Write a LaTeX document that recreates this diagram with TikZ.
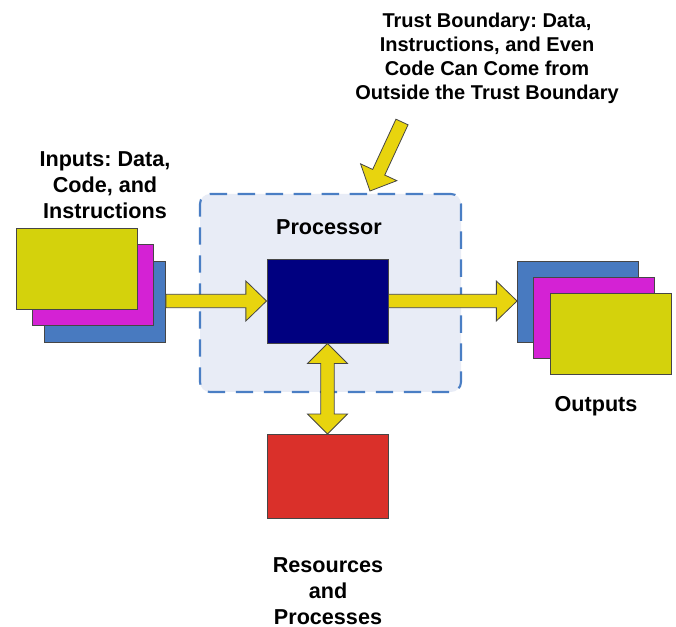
\documentclass[tikz,border=0pt]{standalone}
\usepackage{fontspec}
\setmainfont{Liberation Sans}
\usetikzlibrary{calc}
\frenchspacing

\definecolor{sheetyellow}{RGB}{212,210,12}
\definecolor{sheetmagenta}{RGB}{212,34,212}
\definecolor{sheetblue}{RGB}{72,122,192}
\definecolor{arrowyellow}{RGB}{232,212,14}
\definecolor{cpunavy}{RGB}{0,0,128}
\definecolor{resred}{RGB}{218,48,42}
\definecolor{zonefill}{RGB}{232,236,246}
\definecolor{zoneedge}{RGB}{74,126,196}
\definecolor{outline}{RGB}{70,70,70}

\tikzset{
  sheet/.style={draw=outline, line width=0.7pt, minimum width=90.75pt, minimum height=60.75pt, inner sep=0pt},
  unit/.style={draw=outline, line width=0.7pt, minimum width=90.75pt, minimum height=63pt, inner sep=0pt},
  blockarrow/.style={draw=outline, line width=0.6pt, fill=arrowyellow, line join=miter},
  label/.style={font=\fontsize{16.2pt}{19.5pt}\selectfont\bfseries, align=center, inner sep=0pt},
  smalllabel/.style={font=\fontsize{15pt}{18pt}\selectfont\bfseries, align=center, inner sep=0pt},
}

% block arrow from #1 (tail) to #2 (tip)
\newcommand\blockarrowpath[2]{%
  \path coordinate (hb) at ($(#2)!15.5pt!(#1)$);
  \draw[blockarrow]
    ($(#1)!5pt!90:(#2)$) -- ($(hb)!5pt!90:(#2)$) -- ($(hb)!15pt!90:(#2)$) -- (#2)
    -- ($(hb)!15pt!-90:(#2)$) -- ($(hb)!5pt!-90:(#2)$) -- ($(#1)!5pt!-90:(#2)$) -- cycle;
}

\begin{document}
\begin{tikzpicture}[x=0.75pt,y=-0.75pt]
  \useasboundingbox[fill=white] (0,0) rectangle (676,627);

  % trust boundary zone
  \node[draw=zoneedge, fill=zonefill, line width=1.6pt, dash pattern=on 13pt off 8pt,
        rounded corners=7.5pt, minimum width=195.75pt, minimum height=148.5pt, inner sep=0pt]
        (zone) at (330.5,293) {};

  % input sheets
  \node[sheet, fill=sheetblue]    (in3) at (105,301.5) {};
  \node[sheet, fill=sheetmagenta] (in2) at (92.5,285) {};
  \node[sheet, fill=sheetyellow]  (in1) at (76.5,268.5) {};

  % output sheets
  \node[sheet, fill=sheetblue]    (out1) at (578,301.5) {};
  \node[sheet, fill=sheetmagenta] (out2) at (594,317.5) {};
  \node[sheet, fill=sheetyellow]  (out3) at (611,333.5) {};

  % processor and resources
  \node[unit, fill=cpunavy] (proc) at (327.5,301) {};
  \node[unit, fill=resred]  (res)  at (327.5,476.5) {};

  % labels
  \node[label] (inlabel) at (105,185) {Inputs: Data,\\Code, and\\Instructions};
  \node[label] (proclabel) at (329,227) {Processor};
  \node[label] (outlabel) at (596,406) {Outputs};
  \node[label] (reslabel) at (328,591) {Resources\\and\\Processes};
  \node[smalllabel] (tblabel) at (487,58) {Trust Boundary: Data,\\Instructions, and Even\\Code Can Come from\\Outside the Trust Boundary};

  % flow arrows
  \coordinate (inTail) at (in3.east |- proc.west);
  \blockarrowpath{inTail}{proc.west}
  \coordinate (outTip) at (out1.west |- proc.east);
  \blockarrowpath{proc.east}{outTip}

  % boundary pointer
  \coordinate (tbTail) at (402,122);
  \coordinate (tbTip) at (370,191);
  \blockarrowpath{tbTail}{tbTip}

  % two-way link between processor and resources
  \path coordinate (ha) at ($(proc.south)!15pt!(res.north)$)
        coordinate (hr) at ($(res.north)!15pt!(proc.south)$);
  \draw[blockarrow]
    (proc.south) -- ($(ha)!15pt!90:(res.north)$) -- ($(ha)!5pt!90:(res.north)$)
    -- ($(hr)!5pt!-90:(proc.south)$) -- ($(hr)!15pt!-90:(proc.south)$) -- (res.north)
    -- ($(hr)!15pt!90:(proc.south)$) -- ($(hr)!5pt!90:(proc.south)$)
    -- ($(ha)!5pt!-90:(res.north)$) -- ($(ha)!15pt!-90:(res.north)$) -- cycle;
\end{tikzpicture}
\end{document}
